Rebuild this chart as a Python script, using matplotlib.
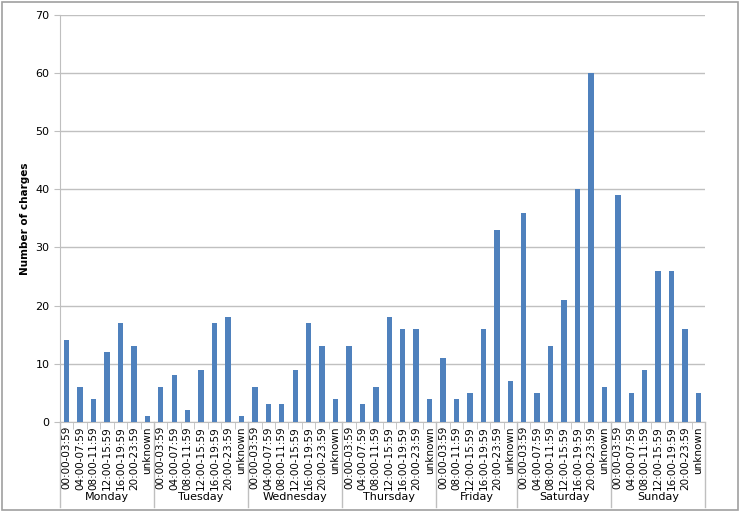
import matplotlib
matplotlib.use("Agg")
import matplotlib.pyplot as plt
from matplotlib.patches import Rectangle

days = ["Monday", "Tuesday", "Wednesday", "Thursday", "Friday", "Saturday", "Sunday"]
slots_full = ["00:00-03:59", "04:00-07:59", "08:00-11:59", "12:00-15:59", "16:00-19:59", "20:00-23:59", "unknown"]
slots_friday = ["00:00-03:59", "08:00-11:59", "12:00-15:59", "16:00-19:59", "20:00-23:59", "unknown"]
day_slots = [slots_full, slots_full, slots_full, slots_full, slots_friday, slots_full, slots_full]
values = [
    [14, 6, 4, 12, 17, 13, 1],
    [6, 8, 2, 9, 17, 18, 1],
    [6, 3, 3, 9, 17, 13, 4],
    [13, 3, 6, 18, 16, 16, 4],
    [11, 4, 5, 16, 33, 7],
    [36, 5, 13, 21, 40, 60, 6],
    [39, 5, 9, 26, 26, 16, 5],
]

labels, vals, bounds = [], [], [0]
for s, v in zip(day_slots, values):
    labels += s
    vals += v
    bounds.append(bounds[-1] + len(s))
n = len(vals)

fig = plt.figure(figsize=(7.4, 5.12), dpi=100)
fig.patches.append(Rectangle((0.003, 0.004), 0.994, 0.992, transform=fig.transFigure,
                             fill=False, edgecolor="#a0a0a0", linewidth=1.2))
ax = fig.add_axes([0.081, 0.176, 0.872, 0.795])
ax.bar(range(n), vals, width=0.4, color="#4f81bd", zorder=3)
ax.set_xlim(-0.5, n - 0.5)
ax.set_ylim(0, 70)
ax.set_yticks(range(0, 71, 10))
ax.yaxis.grid(True, color="#c0c0c0", linewidth=1, zorder=0)
for sp in ["top", "right"]:
    ax.spines[sp].set_visible(False)
ax.spines["left"].set_color("#bfbfbf")
ax.spines["bottom"].set_color("#bfbfbf")
ax.tick_params(axis="y", length=4, color="#bfbfbf", labelsize=8)
ax.set_xticks(range(n))
ax.set_xticklabels(labels, rotation=90, fontsize=7.5)
ax.tick_params(axis="x", length=0, pad=3)
ax.set_xticks([i - 0.5 for i in range(n + 1)], minor=True)
ax.tick_params(axis="x", which="minor", length=5, color="#bfbfbf")
ax.set_ylabel("Number of charges", fontsize=7.5, fontweight="bold")

tr = ax.get_xaxis_transform()
for b in bounds:
    ax.plot([b - 0.5, b - 0.5], [0, -0.21], transform=tr, color="#bfbfbf",
            linewidth=1, clip_on=False)
for d, a, b in zip(days, bounds[:-1], bounds[1:]):
    ax.text((a + b - 1) / 2, -0.185, d, transform=tr, ha="center", va="center", fontsize=8)

fig.savefig("out.png", dpi=100)
